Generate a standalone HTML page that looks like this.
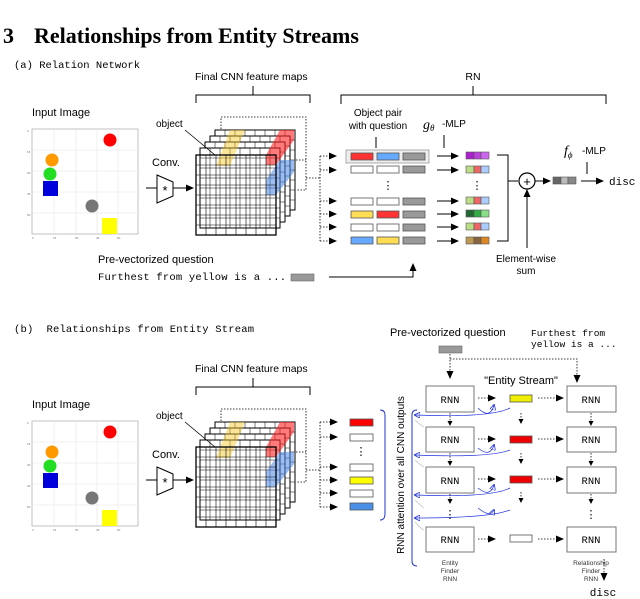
<!DOCTYPE html>
<html><head><meta charset="utf-8"><style>
html,body{margin:0;padding:0;background:#fff;width:640px;height:599px;overflow:hidden}
svg text{font-family:"Liberation Sans",sans-serif}
svg .m, svg .m text{font-family:"Liberation Mono",monospace}
</style></head><body>
<svg width="640" height="599" viewBox="0 0 640 599" xmlns="http://www.w3.org/2000/svg">
<defs>
<marker id="ar" markerWidth="8" markerHeight="8" refX="7" refY="4" orient="auto" markerUnits="userSpaceOnUse"><path d="M0,0.5 L8,4 L0,7.5z" fill="#000"/></marker>
<marker id="as" markerWidth="5" markerHeight="5" refX="4" refY="2.5" orient="auto" markerUnits="userSpaceOnUse"><path d="M0,0 L5,2.5 L0,5z" fill="#000"/></marker>
<marker id="ab" markerWidth="6" markerHeight="6" refX="5" refY="3" orient="auto" markerUnits="userSpaceOnUse"><path d="M0,0 L6,3 L0,6z" fill="none" stroke="#2233dd" stroke-width="0.8"/></marker>
<g id="left">
  <text x="32" y="116" font-size="11">Input Image</text>
  <rect x="32" y="129" width="106" height="105" fill="#fff" stroke="#999" stroke-width="0.6"/>
  <g stroke="#e4e4e4" stroke-width="0.6">
   <line x1="54" y1="129" x2="54" y2="234"/><line x1="76" y1="129" x2="76" y2="234"/><line x1="97" y1="129" x2="97" y2="234"/><line x1="118" y1="129" x2="118" y2="234"/>
   <line x1="32" y1="150" x2="138" y2="150"/><line x1="32" y1="171" x2="138" y2="171"/><line x1="32" y1="192" x2="138" y2="192"/><line x1="32" y1="213" x2="138" y2="213"/>
  </g>
  <g font-size="3" fill="#777"><text x="27" y="132">0</text><text x="27" y="153">15</text><text x="27" y="174">30</text><text x="27" y="195">45</text><text x="27" y="216">60</text>
  <text x="32" y="239">0</text><text x="53" y="239">15</text><text x="75" y="239">30</text><text x="96" y="239">45</text><text x="117" y="239">60</text></g>
  <circle cx="110" cy="140" r="6.5" fill="#f00"/>
  <circle cx="52" cy="160" r="6.5" fill="#f90"/>
  <circle cx="50" cy="174" r="6.5" fill="#2d2"/>
  <rect x="43" y="181" width="15" height="15" fill="#00d"/>
  <circle cx="92" cy="206" r="6.5" fill="#777"/>
  <rect x="102" y="218" width="15" height="16" fill="#ff0"/>
  <text x="152" y="166" font-size="11">Conv.</text>
  <line x1="146" y1="188" x2="157" y2="188" stroke="#000" stroke-width="1"/>
  <path d="M157,175 L173,182 L173,196 L157,203z" fill="#fff" stroke="#000" stroke-width="1"/>
  <text x="165" y="195" font-size="13" text-anchor="middle">*</text>
  <line x1="173" y1="188" x2="193" y2="188" stroke="#000" stroke-width="1" marker-end="url(#ar)"/>
  <text x="195" y="80" font-size="10.5">Final CNN feature maps</text>
  <path d="M196,103 V95 H310 V103 M253,95 V86" fill="none" stroke="#000" stroke-width="1"/>
  <path d="M221,177 V117 H306 V190 H296 M296,160 H306 M306,178 H320" fill="none" stroke="#000" stroke-width="0.8" stroke-dasharray="1.5,1.5"/>
  <g stroke="#000" stroke-width="1" fill="#fff">
   <g transform="translate(19,-25)"><rect x="196" y="155" width="80" height="80"/><path d="M206,155V235M216,155V235M226,155V235M236,155V235M246,155V235M256,155V235M266,155V235M196,165H276M196,175H276M196,185H276M196,195H276M196,205H276M196,215H276M196,225H276" stroke-width="0.5"/></g>
   <g transform="translate(14,-19)"><rect x="196" y="155" width="80" height="80"/><path d="M206,155V235M216,155V235M226,155V235M236,155V235M246,155V235M256,155V235M266,155V235M196,165H276M196,175H276M196,185H276M196,195H276M196,205H276M196,215H276M196,225H276" stroke-width="0.5"/></g>
   <g transform="translate(9,-13)"><rect x="196" y="155" width="80" height="80"/><path d="M206,155V235M216,155V235M226,155V235M236,155V235M246,155V235M256,155V235M266,155V235M196,165H276M196,175H276M196,185H276M196,195H276M196,205H276M196,215H276M196,225H276" stroke-width="0.5"/></g>
   <g transform="translate(4,-7)"><rect x="196" y="155" width="80" height="80"/><path d="M206,155V235M216,155V235M226,155V235M236,155V235M246,155V235M256,155V235M266,155V235M196,165H276M196,175H276M196,185H276M196,195H276M196,205H276M196,215H276M196,225H276" stroke-width="0.5"/></g>
  </g>
  <path d="M216,166 L230,130 L245,130 L230,166z" fill="#f6c520" opacity="0.45"/>
  <path d="M266,165 L266,155 L280,130 L294,130 L294,140 L276,165z" fill="#f22" opacity="0.6"/>
  <path d="M266,195 L266,180 L280,160 L294,160 L294,172 L276,195z" fill="#4a86e8" opacity="0.55"/>
  <g stroke="#000" stroke-width="1" fill="#fff">
   <rect x="196" y="155" width="80" height="80" fill="none" stroke-width="1.3"/>
   <path d="M206,155V235M216,155V235M226,155V235M236,155V235M246,155V235M256,155V235M266,155V235M196,165H276M196,175H276M196,185H276M196,195H276M196,205H276M196,215H276M196,225H276" stroke-width="0.6"/>
  </g>
  <text x="156" y="127" font-size="10">object</text>
  <line x1="185" y1="130" x2="215" y2="155" stroke="#000" stroke-width="0.8"/>
</g>
</defs>

<g font-weight="bold" font-size="22"><text x="3" y="43" style="font-family:'Liberation Serif',serif">3</text><text x="34" y="43" style="font-family:'Liberation Serif',serif">Relationships from Entity Streams</text></g>

<!-- (a) -->
<text x="14" y="68" font-size="10.5" class="m" xml:space="preserve">(a) Relation Network</text>
<use href="#left"/>
<g fill="none" stroke="#000" stroke-width="0.8" stroke-dasharray="1.5,1.5">
 <path d="M320,156 V241"/>
</g>
<g stroke="#000" stroke-width="0.8" stroke-dasharray="1.5,1.5">
 <line x1="320" y1="156" x2="336" y2="156" marker-end="url(#ar)"/>
 <line x1="320" y1="170" x2="336" y2="170" marker-end="url(#ar)"/>
 <line x1="320" y1="201" x2="336" y2="201" marker-end="url(#ar)"/>
 <line x1="320" y1="214" x2="336" y2="214" marker-end="url(#ar)"/>
 <line x1="320" y1="227" x2="336" y2="227" marker-end="url(#ar)"/>
 <line x1="320" y1="241" x2="336" y2="241" marker-end="url(#ar)"/>
</g>
<text x="473" y="80" font-size="10.5" text-anchor="middle">RN</text>
<path d="M341,104 V95 H606 V104 M473,95 V86" fill="none" stroke="#000" stroke-width="1"/>
<text x="378" y="116" font-size="10" text-anchor="middle">Object pair</text>
<text x="378" y="129" font-size="10" text-anchor="middle">with question</text>
<line x1="376" y1="137" x2="376" y2="148" stroke="#000"/>
<text x="423" y="129" font-size="14" font-style="italic" style="font-family:'Liberation Serif',serif">g<tspan font-size="9" dy="2">θ</tspan></text>
<text x="442" y="127" font-size="10">-MLP</text>
<line x1="444" y1="135" x2="444" y2="148" stroke="#000"/>
<rect x="346" y="150" width="83" height="13" fill="#eee" stroke="#999" stroke-width="0.8"/>
<g stroke="#555" stroke-width="0.8">
 <rect x="351" y="153" width="22" height="7" fill="#f33"/><rect x="377" y="153" width="22" height="7" fill="#6af"/><rect x="403" y="153" width="22" height="7" fill="#999"/>
 <rect x="351" y="166" width="22" height="7" fill="#fff"/><rect x="377" y="166" width="22" height="7" fill="#fff"/><rect x="403" y="166" width="22" height="7" fill="#999"/>
 <rect x="351" y="198" width="22" height="7" fill="#fff"/><rect x="377" y="198" width="22" height="7" fill="#fff"/><rect x="403" y="198" width="22" height="7" fill="#999"/>
 <rect x="351" y="211" width="22" height="7" fill="#fd5"/><rect x="377" y="211" width="22" height="7" fill="#f33"/><rect x="403" y="211" width="22" height="7" fill="#999"/>
 <rect x="351" y="224" width="22" height="7" fill="#fff"/><rect x="377" y="224" width="22" height="7" fill="#fff"/><rect x="403" y="224" width="22" height="7" fill="#999"/>
 <rect x="351" y="237" width="22" height="7" fill="#6af"/><rect x="377" y="237" width="22" height="7" fill="#fd5"/><rect x="403" y="237" width="22" height="7" fill="#999"/>
</g>
<text x="388" y="189" font-size="11" text-anchor="middle">⋮</text>
<text x="477" y="189" font-size="11" text-anchor="middle">⋮</text>
<g stroke="#000" stroke-width="1">
 <line x1="437" y1="156" x2="458" y2="156" marker-end="url(#ar)"/>
 <line x1="437" y1="170" x2="458" y2="170" marker-end="url(#ar)"/>
 <line x1="437" y1="201" x2="458" y2="201" marker-end="url(#ar)"/>
 <line x1="437" y1="214" x2="458" y2="214" marker-end="url(#ar)"/>
 <line x1="437" y1="227" x2="458" y2="227" marker-end="url(#ar)"/>
 <line x1="437" y1="241" x2="458" y2="241" marker-end="url(#ar)"/>
</g>
<g stroke="#555" stroke-width="0.6">
 <rect x="466" y="152" width="8" height="7" fill="#a2c"/><rect x="474" y="152" width="7" height="7" fill="#b4d"/><rect x="481" y="152" width="8" height="7" fill="#c6e"/>
 <rect x="466" y="166" width="8" height="7" fill="#bd8"/><rect x="474" y="166" width="7" height="7" fill="#e66"/><rect x="481" y="166" width="8" height="7" fill="#acf"/>
 <rect x="466" y="197" width="8" height="7" fill="#bd8"/><rect x="474" y="197" width="7" height="7" fill="#e66"/><rect x="481" y="197" width="8" height="7" fill="#acf"/>
 <rect x="466" y="210" width="8" height="7" fill="#263"/><rect x="474" y="210" width="7" height="7" fill="#3a4"/><rect x="481" y="210" width="8" height="7" fill="#8d8"/>
 <rect x="466" y="223" width="8" height="7" fill="#bd8"/><rect x="474" y="223" width="7" height="7" fill="#e66"/><rect x="481" y="223" width="8" height="7" fill="#acf"/>
 <rect x="466" y="237" width="8" height="7" fill="#b95"/><rect x="474" y="237" width="7" height="7" fill="#864"/><rect x="481" y="237" width="8" height="7" fill="#d82"/>
</g>
<path d="M497,155 H508 V241 H497 M508,181 H518" fill="none" stroke="#000" stroke-width="1"/>
<circle cx="527" cy="181" r="8" fill="#fff" stroke="#000" stroke-width="1.2"/>
<text x="527" y="186" font-size="13" text-anchor="middle">+</text>
<line x1="535" y1="181" x2="550" y2="181" stroke="#000" marker-end="url(#ar)"/>
<line x1="527" y1="248" x2="527" y2="190" stroke="#000" marker-end="url(#ar)"/>
<g stroke="#555" stroke-width="0.6"><rect x="553" y="177" width="8" height="7" fill="#666"/><rect x="561" y="177" width="7" height="7" fill="#bbb"/><rect x="568" y="177" width="8" height="7" fill="#888"/></g>
<line x1="581" y1="181" x2="603" y2="181" stroke="#000" marker-end="url(#ar)"/>
<text x="609" y="185" font-size="11" class="m">disc</text>
<text x="564" y="155" font-size="14" font-style="italic" style="font-family:'Liberation Serif',serif">f<tspan font-size="9" dy="3">ϕ</tspan></text>
<text x="582" y="154" font-size="10">-MLP</text>
<line x1="587" y1="162" x2="587" y2="174" stroke="#000"/>
<text x="526" y="262" font-size="10" text-anchor="middle">Element-wise</text>
<text x="526" y="274" font-size="10" text-anchor="middle">sum</text>
<text x="98" y="263" font-size="11">Pre-vectorized question</text>
<text x="98" y="280" font-size="10.5" class="m" textLength="188">Furthest from yellow is a ...</text>
<rect x="291" y="274" width="23" height="7" fill="#999" stroke="#666" stroke-width="0.6"/>
<path d="M329,277 H413 V264" fill="none" stroke="#000" stroke-width="1" marker-end="url(#ar)"/>

<!-- (b) -->
<text x="14" y="332" font-size="10.5" class="m" textLength="240" xml:space="preserve">(b)  Relationships from Entity Stream</text>
<use href="#left" transform="translate(0,292)"/>
<path d="M320,422 V507" stroke="#000" stroke-width="0.8" stroke-dasharray="1.5,1.5"/>
<g stroke="#000" stroke-width="0.8" stroke-dasharray="1.5,1.5">
 <line x1="320" y1="422" x2="337" y2="422" marker-end="url(#ar)"/>
 <line x1="320" y1="437" x2="337" y2="437" marker-end="url(#ar)"/>
 <line x1="320" y1="467" x2="337" y2="467" marker-end="url(#ar)"/>
 <line x1="320" y1="480" x2="337" y2="480" marker-end="url(#ar)"/>
 <line x1="320" y1="493" x2="337" y2="493" marker-end="url(#ar)"/>
 <line x1="320" y1="507" x2="337" y2="507" marker-end="url(#ar)"/>
</g>
<g stroke="#555" stroke-width="0.8">
 <rect x="350" y="419" width="23" height="7" fill="#f00"/>
 <rect x="350" y="434" width="23" height="7" fill="#fff"/>
 <rect x="350" y="464" width="23" height="7" fill="#fff"/>
 <rect x="350" y="477" width="23" height="7" fill="#ff0"/>
 <rect x="350" y="490" width="23" height="7" fill="#fff"/>
 <rect x="350" y="503" width="23" height="7" fill="#4a90e8"/>
</g>
<text x="361" y="455" font-size="11" text-anchor="middle">⋮</text>
<path d="M380,410 Q385,410 385,415 V514 Q385,520 380,520" fill="none" stroke="#2233cc" stroke-width="1"/>
<path d="M417,410 Q412,410 412,415 V561 Q412,566 417,566" fill="none" stroke="#2233cc" stroke-width="1"/>
<text transform="translate(404,475) rotate(-90)" font-size="10" text-anchor="middle">RNN attention over all CNN outputs</text>
<text x="390" y="336" font-size="11">Pre-vectorized question</text>
<text x="531" y="336" font-size="9.5" class="m">Furthest from</text>
<text x="531" y="347" font-size="9.5" class="m">yellow is a ...</text>
<rect x="439" y="346" width="23" height="7" fill="#999" stroke="#666" stroke-width="0.6"/>
<g stroke="#000" stroke-width="0.8" stroke-dasharray="1.5,1.5" fill="none">
 <path d="M450,354 V378" marker-end="url(#ar)"/>
 <path d="M450,359 H577 V382" marker-end="url(#ar)"/>
</g>
<text x="521" y="384" font-size="11" text-anchor="middle">"Entity Stream"</text>
<g fill="#fff" stroke="#777" stroke-width="1">
 <rect x="426" y="386" width="48" height="26"/><rect x="426" y="427" width="48" height="25"/><rect x="426" y="467" width="48" height="26"/><rect x="426" y="527" width="48" height="25"/>
 <rect x="567" y="386" width="49" height="26"/><rect x="567" y="427" width="49" height="25"/><rect x="567" y="467" width="49" height="26"/><rect x="567" y="527" width="49" height="25"/>
</g>
<g font-size="10.5" class="m" text-anchor="middle">
 <text x="450" y="403">RNN</text><text x="450" y="443">RNN</text><text x="450" y="484">RNN</text><text x="450" y="543">RNN</text>
 <text x="591" y="403">RNN</text><text x="591" y="443">RNN</text><text x="591" y="484">RNN</text><text x="591" y="543">RNN</text>
</g>
<g stroke="#555" stroke-width="0.8">
 <rect x="510" y="395" width="22" height="7" fill="#ee0"/>
 <rect x="510" y="436" width="22" height="7" fill="#e00"/>
 <rect x="510" y="476" width="22" height="7" fill="#e00"/>
 <rect x="510" y="535" width="22" height="7" fill="#fff"/>
</g>
<g stroke="#000" stroke-width="0.8" stroke-dasharray="1.5,1.5">
 <line x1="478" y1="398" x2="495" y2="398" marker-end="url(#ar)"/><line x1="538" y1="398" x2="563" y2="398" marker-end="url(#ar)"/>
 <line x1="478" y1="439" x2="495" y2="439" marker-end="url(#ar)"/><line x1="538" y1="439" x2="563" y2="439" marker-end="url(#ar)"/>
 <line x1="478" y1="479" x2="495" y2="479" marker-end="url(#ar)"/><line x1="538" y1="479" x2="563" y2="479" marker-end="url(#ar)"/>
 <line x1="478" y1="539" x2="495" y2="539" marker-end="url(#ar)"/><line x1="538" y1="539" x2="563" y2="539" marker-end="url(#ar)"/>
 <line x1="450" y1="413" x2="450" y2="425" marker-end="url(#as)"/><line x1="450" y1="453" x2="450" y2="465" marker-end="url(#as)"/><line x1="450" y1="494" x2="450" y2="503" marker-end="url(#as)"/>
 <line x1="591" y1="413" x2="591" y2="425" marker-end="url(#as)"/><line x1="591" y1="453" x2="591" y2="465" marker-end="url(#as)"/><line x1="591" y1="494" x2="591" y2="503" marker-end="url(#as)"/>
 <line x1="521" y1="413" x2="521" y2="423" marker-end="url(#as)"/><line x1="521" y1="453" x2="521" y2="463" marker-end="url(#as)"/><line x1="521" y1="492" x2="521" y2="502" marker-end="url(#as)"/>
 <line x1="604" y1="559" x2="604" y2="580" marker-end="url(#ar)"/>
</g>
<g font-size="11" text-anchor="middle"><text x="450" y="518">⋮</text><text x="591" y="518">⋮</text></g>
<g fill="none" stroke="#2233dd" stroke-width="0.7">
 <path d="M478,408 Q490,420 494,405" marker-end="url(#ab)"/><path d="M510,408 Q490,418 415,415" marker-end="url(#ab)"/>
 <path d="M478,448 Q490,458 494,445" marker-end="url(#ab)"/><path d="M510,450 Q490,458 415,455" marker-end="url(#ab)"/>
 <path d="M478,488 Q490,498 494,485" marker-end="url(#ab)"/><path d="M510,488 Q490,498 415,495" marker-end="url(#ab)"/>
 <path d="M478,508 Q490,518 494,510" marker-end="url(#ab)"/><path d="M510,510 Q490,518 415,518" marker-end="url(#ab)"/>
</g>
<g fill="none" stroke="#bbb" stroke-width="0.6">
 <path d="M415,420 Q420,425 424,427"/><path d="M415,460 Q420,465 424,467"/><path d="M415,500 Q420,505 424,508"/><path d="M415,522 Q420,528 424,530"/>
</g>
<g font-size="6.5" text-anchor="middle" fill="#333"><text x="450" y="565">Entity</text><text x="450" y="573">Finder</text><text x="450" y="581">RNN</text>
<text x="591" y="565">Relationship</text><text x="591" y="573">Finder</text><text x="591" y="581">RNN</text></g>
<text x="603" y="596" font-size="11" class="m" text-anchor="middle">disc</text>
</svg>
</body></html>
